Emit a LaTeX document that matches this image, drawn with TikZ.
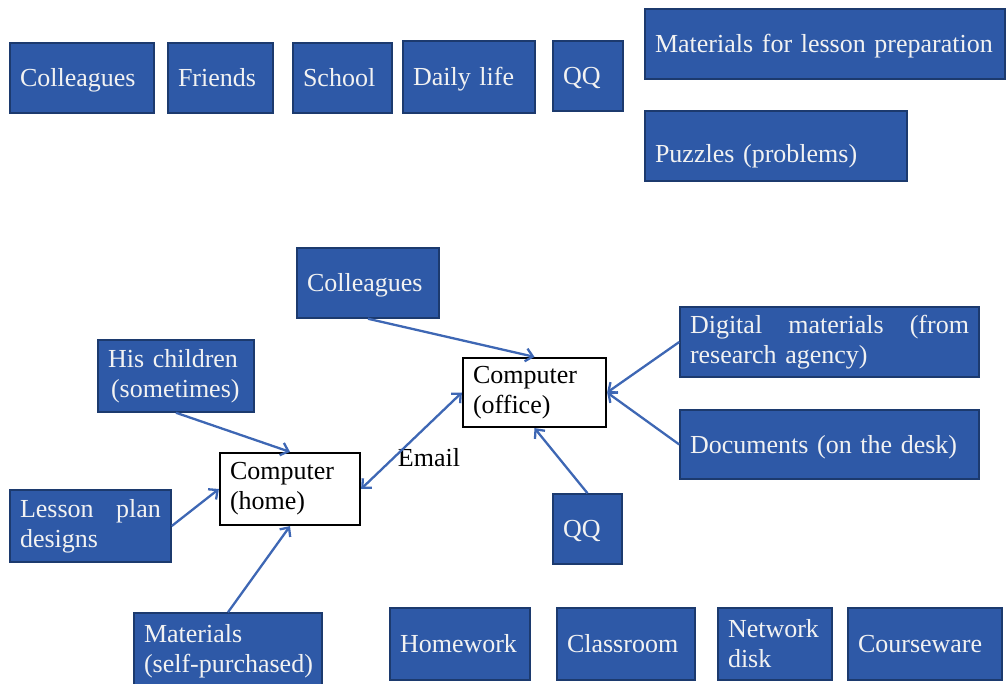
\documentclass[tikz,border=0pt]{standalone}
\usepackage{fontspec}
\setmainfont{Liberation Serif}
\usetikzlibrary{arrows.meta}
\definecolor{bfill}{RGB}{46,89,167}
\definecolor{bdraw}{RGB}{28,58,110}
\definecolor{btext}{RGB}{242,242,242}
\definecolor{arrc}{RGB}{62,103,180}
\newcommand{\fsz}{\fontsize{26}{30}\selectfont}
\newcommand{\mkbox}[7]{%
 \pgfmathsetmacro\bw{#4-#2}\pgfmathsetmacro\bh{#5-#3}\pgfmathsetmacro\tw{#4-#2-20}%
 \node[#6, minimum width=\bw pt, minimum height=\bh pt, text width=\tw pt] (#1) at ({(#2+#4)/2},{(#3+#5)/2}) {#7};}
\begin{document}
\begin{tikzpicture}[x=1pt,y=-1pt,
 bluebox/.style={draw=bdraw, fill=bfill, line width=1.5pt, text=btext, inner xsep=10pt, inner ysep=0pt, align=left, font=\fsz},
 compbox/.style={draw=black, fill=white, line width=2.2pt, text=black, inner xsep=10pt, inner ysep=0pt, align=left, font=\fsz},
 oneline/.style={text height=17.5pt, text depth=0pt},
 arr/.style={draw=arrc, line width=2.3pt, -{Straight Barb[length=7pt,width=13pt]}},
 biarr/.style={arr, {Straight Barb[length=7pt,width=13pt]}-{Straight Barb[length=7pt,width=13pt]}},
 lbl/.style={font=\fsz, text=black, inner sep=0pt}]
\useasboundingbox (0,0) rectangle (1007,684);
% top row
\mkbox{tcol}{10}{43}{154}{113}{bluebox,oneline}{Colleagues}
\mkbox{tfri}{168}{43}{273}{113}{bluebox,oneline}{Friends}
\mkbox{tsch}{293}{43}{392}{113}{bluebox,oneline}{School}
\mkbox{tdai}{403}{41}{535}{113}{bluebox,oneline}{Daily life}
\mkbox{tqq}{553}{41}{623}{111}{bluebox,oneline}{QQ}
\mkbox{tmat}{645}{9}{1005}{79}{bluebox,oneline}{Materials for lesson preparation}
\mkbox{tpuz}{645}{111}{907}{181}{bluebox,text height=34pt,text depth=0pt}{Puzzles (problems)}
% lower diagram
\mkbox{bcol}{297}{248}{439}{318}{bluebox,oneline}{Colleagues}
\mkbox{child}{98}{340}{254}{412}{bluebox}{His children\\\hspace*{3pt}(sometimes)}
\mkbox{home}{220}{453}{360}{525}{compbox}{Computer\\(home)}
\mkbox{office}{463}{358}{606}{427}{compbox}{Computer\\(office)}
\mkbox{digi}{680}{307}{979}{377}{bluebox}{Digital\hfill materials\hfill (from\\research agency)}
\mkbox{docs}{680}{410}{979}{479}{bluebox,oneline}{Documents (on the desk)}
\mkbox{bqq}{553}{494}{622}{564}{bluebox,oneline}{QQ}
\mkbox{lesson}{10}{490}{171}{562}{bluebox}{Lesson\hfill plan\\designs}
\mkbox{mats}{134}{613}{322}{690}{bluebox}{Materials\\\mbox{(self-purchased)}}
\mkbox{hw}{390}{608}{530}{680}{bluebox,oneline}{Homework}
\mkbox{cls}{557}{608}{695}{680}{bluebox,oneline}{Classroom}
\mkbox{net}{718}{608}{832}{680}{bluebox}{Network\\disk}
\mkbox{cw}{848}{608}{1002}{680}{bluebox,oneline}{Courseware}
\node[lbl, anchor=base] (email) at (429,467) {Email};
% connectors
\draw[arr] (bcol.south) -- (office.north);
\draw[arr] (child.south) -- (home.north);
\draw[arr] (lesson.east) -- (home.west);
\draw[arr] (mats.north) -- (home.south);
\draw[biarr] (home.east) -- (office.west);
\draw[arr] (digi.west) -- (office.east);
\draw[arr] (docs.west) -- (office.east);
\draw[arr] (bqq.north) -- (office.south);
\end{tikzpicture}
\end{document}
